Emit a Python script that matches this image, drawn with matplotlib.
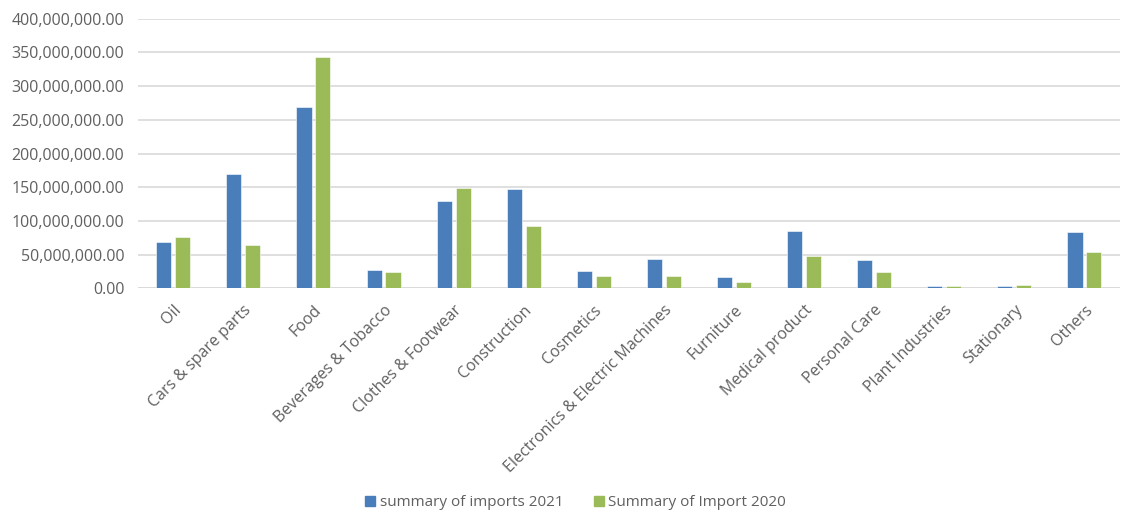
import numpy as np
import matplotlib.pyplot as plt
from matplotlib.ticker import FuncFormatter
from matplotlib.patches import Patch

categories = ["Oil", "Cars & spare parts", "Food", "Beverages & Tobacco",
              "Clothes & Footwear", "Construction", "Cosmetics",
              "Electronics & Electric Machines", "Furniture", "Medical product",
              "Personal Care", "Plant Industries", "Stationary", "Others"]
imports_2021 = [68.2e6, 169.0e6, 268.4e6, 26.7e6, 130.0e6, 146.8e6, 25.7e6,
                43.9e6, 16.8e6, 85.0e6, 41.5e6, 3.4e6, 3.4e6, 83.0e6]
imports_2020 = [75.6e6, 64.7e6, 343.0e6, 24.6e6, 148.8e6, 92.4e6, 17.8e6,
                18.2e6, 9.4e6, 47.5e6, 23.7e6, 3.4e6, 4.9e6, 53.8e6]
series_names = ["summary of imports 2021", "Summary of Import 2020"]

blue = "#4A7EBB"
green = "#9BBB59"
txt = "#606060"

plt.rcParams['font.family'] = ['Open Sans', 'DejaVu Sans']

fig = plt.figure(figsize=(11.24, 5.13), dpi=100)
ax = fig.add_axes([0.123, 0.438, 0.873, 0.5255])

x = np.arange(len(categories))
w = 0.215
ax.bar(x - 0.135, imports_2021, w, color=blue, edgecolor="white", linewidth=0.4, zorder=3)
ax.bar(x + 0.135, imports_2020, w, color=green, edgecolor="white", linewidth=0.4, zorder=3)

ax.set_xlim(-0.5, len(categories) - 0.5)
ax.set_ylim(0, 400e6)
ax.set_yticks(np.arange(0, 400e6 + 1, 50e6))
ax.yaxis.set_major_formatter(FuncFormatter(lambda v, p: f"{v:,.2f}"))
ax.grid(axis="y", color="#D9D9D9", linewidth=1.2, zorder=0)

for s in ax.spines.values():
    s.set_visible(False)
ax.axhline(0, color="#D9D9D9", linewidth=1.2, zorder=2)

ax.set_xticks(x)
ax.set_xticklabels(categories, rotation=45, ha="right", rotation_mode="anchor")
ax.tick_params(axis="both", length=0, colors=txt, labelsize=11.5)
ax.tick_params(axis="y", pad=10)
ax.tick_params(axis="x", pad=10)

handles = [Patch(color=blue), Patch(color=green)]
fig.legend(handles, series_names, loc="center", bbox_to_anchor=(0.512, 0.02),
           ncol=2, frameon=False, fontsize=11, labelcolor=txt,
           handlelength=0.65, handleheight=0.65, handletextpad=0.3, columnspacing=2.0)

fig.savefig("out.png", dpi=100)
